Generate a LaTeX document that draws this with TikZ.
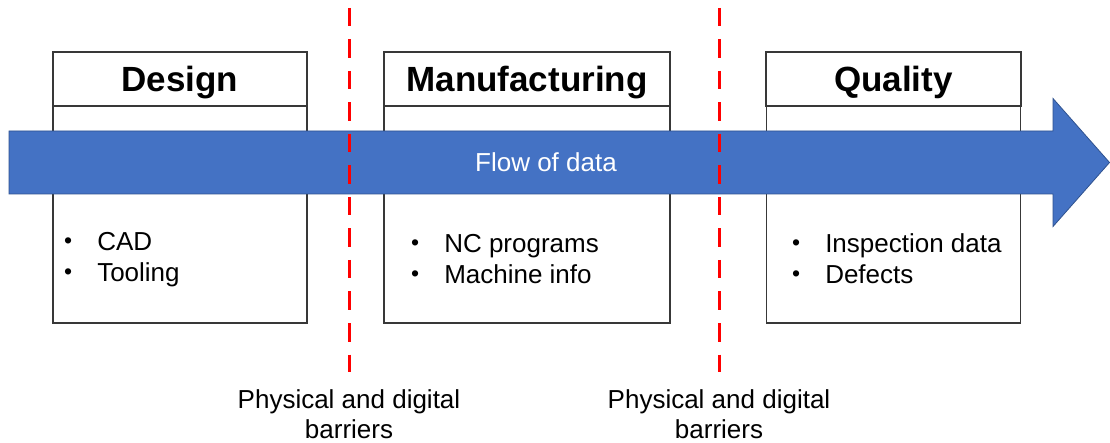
\documentclass[tikz,border=0pt]{standalone}
\usepackage{fontspec}
\setmainfont{Liberation Sans}
\newcommand{\smallbul}{\raisebox{2pt}{\fontsize{23}{23}\selectfont\textbullet}}
\begin{document}
\begin{tikzpicture}[x=1pt,y=-1pt,
  boxline/.style={draw=black!78,line width=1.3pt,fill=white},
  hdr/.style={boxline,inner sep=0pt,minimum height=54pt,text height=25pt,text depth=0pt,
    font=\fontsize{35}{40}\selectfont\bfseries},
  bodybox/.style={boxline,inner sep=0pt,minimum height=217pt},
  listtext/.style={inner sep=0pt,anchor=base west,font=\fontsize{26}{31}\selectfont},
  barrierlabel/.style={inner sep=0pt,anchor=base,font=\fontsize{26}{30}\selectfont},
  barrier/.style={draw=red,line width=3pt,dash pattern=on 18.5pt off 13pt}
]
\definecolor{flowblue}{HTML}{4472C4}
\definecolor{flowedge}{HTML}{2F528F}
\useasboundingbox (0,0) rectangle (1110,443);
\fill[white] (0,0) rectangle (1110,443);

% body boxes
\node[bodybox,minimum width=254pt] (designbody) at (180,214.5) {};
\node[bodybox,minimum width=286pt] (manubody) at (527,214.5) {};
\node[bodybox,minimum width=254pt] (qualbody) at (893.5,214.5) {};

% headers
\node[hdr,minimum width=254pt] (design) at (180,79) {Design};
\node[hdr,minimum width=286pt] (manu) at (527,79) {Manufacturing};
\node[hdr,minimum width=255pt] (qual) at (893.5,79) {Quality};

% flow arrow
\draw[fill=flowblue,draw=flowedge,line width=0.8pt]
  (9,131) -- (1053,131) -- (1053,98.5) -- (1109.5,162.5) -- (1053,226.5) -- (1053,194) -- (9,194) -- cycle;
\node[inner sep=0pt,text height=18.6pt,text depth=0pt,text=white,font=\fontsize{26}{31}\selectfont] (flow) at (546,162.5) {Flow of data};

% lists
\node[listtext] (designlist) at (64,251) {\begin{tabular}[t]{@{}l@{\hspace{25pt}}l@{}}\smallbul & CAD\\ \smallbul & Tooling\end{tabular}};
\node[listtext] (manulist) at (411,253) {\begin{tabular}[t]{@{}l@{\hspace{25pt}}l@{}}\smallbul & NC programs\\ \smallbul & Machine info\end{tabular}};
\node[listtext] (quallist) at (792,253) {\begin{tabular}[t]{@{}l@{\hspace{25pt}}l@{}}\smallbul & Inspection data\\ \smallbul & Defects\end{tabular}};

% barriers
\coordinate (b1top) at (349,8);
\coordinate (b1bot) at (349,372);
\coordinate (b2top) at (719,8);
\coordinate (b2bot) at (719,372);
\draw[barrier] (b1top) -- (b1bot);
\draw[barrier] (b2top) -- (b2bot);

\node[barrierlabel] (b1label) at (349,408) {\begin{tabular}[t]{@{}c@{}}Physical and digital\\ barriers\end{tabular}};
\node[barrierlabel] (b2label) at (719,408) {\begin{tabular}[t]{@{}c@{}}Physical and digital\\ barriers\end{tabular}};
\end{tikzpicture}
\end{document}
